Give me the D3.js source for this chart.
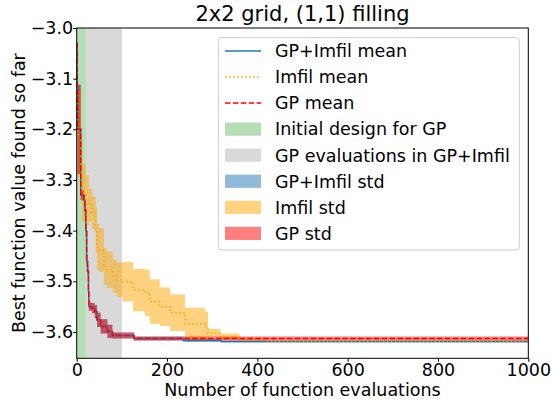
<!DOCTYPE html>
<html>
<head>
<meta charset="utf-8">
<script src="https://cdn.jsdelivr.net/npm/d3@7"></script>
<style>
  body { margin: 0; background: #fff; }
  svg { font-family: "DejaVu Sans", sans-serif; }
</style>
</head>
<body>
<div class="chart-container"></div>
<script>
// data
const gpEvals = [0, 1, 2, 9, 16, 18, 20, 22, 24, 26, 27, 34, 40, 45, 53, 68, 79, 127, 1000];
const gpMean = [-3.03, -3.12, -3.20, -3.33, -3.34, -3.36, -3.40, -3.46, -3.48, -3.52, -3.55, -3.553, -3.56, -3.576, -3.589, -3.599, -3.607, -3.613, -3.614];
const gpStd = [0, 0.005, 0.088, 0.01, 0.01, 0.012, 0.012, 0.012, 0.01, 0.01, 0.008, 0.01, 0.013, 0.014, 0.014, 0.013, 0.006, 0.004, 0.004];

const hybEvals = [0, 1, 2, 9, 16, 18, 20, 22, 24, 26, 27, 34, 40, 45, 53, 68, 79, 127, 236, 320, 1000];
const hybMean = [-3.03, -3.12, -3.20, -3.33, -3.34, -3.36, -3.40, -3.46, -3.48, -3.52, -3.55, -3.553, -3.56, -3.576, -3.589, -3.599, -3.607, -3.613, -3.617, -3.619, -3.619];
const hybStd = [0, 0.005, 0.088, 0.01, 0.01, 0.012, 0.012, 0.012, 0.01, 0.01, 0.008, 0.01, 0.013, 0.014, 0.014, 0.013, 0.006, 0.004, 0.003, 0.002, 0.002];

const imfilEvals = [0, 1, 2, 9, 12, 20, 27, 34, 42, 45, 50, 60, 67, 80, 89, 102, 125, 151, 162, 184, 207, 240, 284, 291, 317, 360, 420, 1000];
const imfilMean = [-3.03, -3.12, -3.21, -3.28, -3.325, -3.34, -3.35, -3.365, -3.398, -3.432, -3.438, -3.471, -3.477, -3.49, -3.497, -3.501, -3.517, -3.523, -3.540, -3.550, -3.562, -3.584, -3.589, -3.602, -3.609, -3.615, -3.618, -3.619];
const imfilStd = [0, 0.005, 0.085, 0.06, 0.057, 0.05, 0.032, 0.032, 0.046, 0.045, 0.043, 0.036, 0.036, 0.033, 0.034, 0.039, 0.042, 0.046, 0.044, 0.038, 0.036, 0.032, 0.029, 0.008, 0.006, 0.003, 0.002, 0.002];

const initDesign = [0, 20];
const gpPhase = [20, 100];
const xTicks = [0, 200, 400, 600, 800, 1000];
const yTicks = [-3.0, -3.1, -3.2, -3.3, -3.4, -3.5, -3.6];
const legendLabels = ["GP+Imfil mean", "Imfil mean", "GP mean", "Initial design for GP",
  "GP evaluations in GP+Imfil", "GP+Imfil std", "Imfil std", "GP std"];

// chart dimensions
const width = 551;
const height = 403;
const marginTop = 28;
const marginRight = 22.7;
const marginBottom = 44.7;
const marginLeft = 76.7;

const x = d3.scaleLinear()
    .domain([0, 1000])
    .range([marginLeft, width - marginRight]);

const y = d3.scaleLinear()
    .domain([-3.0, -3.652])
    .range([marginTop, height - marginBottom]);

const svg = d3.select('.chart-container').append("svg")
    .attr("width", width)
    .attr("height", height);

svg.append("clipPath").attr("id", "plot-clip")
  .append("rect")
    .attr("x", marginLeft).attr("y", marginTop)
    .attr("width", width - marginLeft - marginRight)
    .attr("height", height - marginTop - marginBottom);

const plot = svg.append("g").attr("clip-path", "url(#plot-clip)");

// shaded phases
plot.append("rect")
    .attr("x", x(initDesign[0])).attr("width", x(initDesign[1]) - x(initDesign[0]))
    .attr("y", marginTop).attr("height", height - marginTop - marginBottom)
    .attr("fill", "#2ca02c").attr("fill-opacity", 0.35);
plot.append("rect")
    .attr("x", x(gpPhase[0])).attr("width", x(gpPhase[1]) - x(gpPhase[0]))
    .attr("y", marginTop).attr("height", height - marginTop - marginBottom)
    .attr("fill", "#808080").attr("fill-opacity", 0.3);

function rows(evals, mean, std) {
    return evals.map((e, i) => ({e: e, m: mean[i], s: std[i]}));
}
const gp = rows(gpEvals, gpMean, gpStd);
const hyb = rows(hybEvals, hybMean, hybStd);
const imfil = rows(imfilEvals, imfilMean, imfilStd);

const band = d3.area()
    .curve(d3.curveStepAfter)
    .x(d => x(d.e))
    .y0(d => y(d.m - d.s))
    .y1(d => y(d.m + d.s));

const line = d3.line()
    .curve(d3.curveStepAfter)
    .x(d => x(d.e))
    .y(d => y(d.m));

// std bands
plot.append("path").attr("d", band(hyb)).attr("fill", "#1f77b4").attr("fill-opacity", 0.5);
plot.append("path").attr("d", band(imfil)).attr("fill", "#ffa500").attr("fill-opacity", 0.5);
plot.append("path").attr("d", band(gp)).attr("fill", "#ff0000").attr("fill-opacity", 0.5);

// means
plot.append("path").attr("d", line(hyb)).attr("fill", "none")
    .attr("stroke", "#1f77b4").attr("stroke-width", 1.5);
plot.append("path").attr("d", line(imfil)).attr("fill", "none")
    .attr("stroke", "#ffa500").attr("stroke-width", 1.5).attr("stroke-dasharray", "1.5,2.5");
plot.append("path").attr("d", line(gp)).attr("fill", "none")
    .attr("stroke", "#ff0000").attr("stroke-width", 1.5).attr("stroke-dasharray", "5.5,2.4");

// axes
const xAxis = svg.append("g")
    .attr("transform", `translate(0,${height - marginBottom})`)
    .call(d3.axisBottom(x).tickValues(xTicks).tickFormat(d3.format("d"))
        .tickSize(3.5).tickSizeOuter(0).tickPadding(1.5));
const yAxis = svg.append("g")
    .attr("transform", `translate(${marginLeft},0)`)
    .call(d3.axisLeft(y).tickValues(yTicks).tickFormat(d3.format(".1f"))
        .tickSize(3.5).tickSizeOuter(0).tickPadding(0));

[xAxis, yAxis].forEach(a => {
    a.select(".domain").remove();
    a.selectAll("text").attr("font-size", 17.5).attr("fill", "#000")
        .attr("font-family", "DejaVu Sans");
    a.selectAll("line").attr("stroke", "#000").attr("stroke-width", 1);
});

// frame
svg.append("rect")
    .attr("x", marginLeft).attr("y", marginTop)
    .attr("width", width - marginLeft - marginRight)
    .attr("height", height - marginTop - marginBottom)
    .attr("fill", "none").attr("stroke", "#000").attr("stroke-width", 1);

// titles
svg.append("text")
    .attr("x", (marginLeft + width - marginRight) / 2).attr("y", 21)
    .attr("text-anchor", "middle").attr("font-size", 21)
    .text("2x2 grid, (1,1) filling");
svg.append("text")
    .attr("x", (marginLeft + width - marginRight) / 2).attr("y", 396)
    .attr("text-anchor", "middle").attr("font-size", 17.5)
    .text("Number of function evaluations");
svg.append("text")
    .attr("transform", `translate(25,${(marginTop + height - marginBottom) / 2}) rotate(-90)`)
    .attr("text-anchor", "middle").attr("font-size", 17.5)
    .text("Best function value found so far");

// legend
const legend = svg.append("g");
legend.append("rect")
    .attr("x", 218.3).attr("y", 37.7).attr("width", 301).attr("height", 212.3)
    .attr("rx", 3).attr("fill", "#fff").attr("fill-opacity", 0.8)
    .attr("stroke", "#cccccc").attr("stroke-width", 1);

const legendStyle = [
    {kind: "line", color: "#1f77b4", dash: null},
    {kind: "line", color: "#ffa500", dash: "1.5,2.5"},
    {kind: "line", color: "#ff0000", dash: "5.5,2.4"},
    {kind: "patch", color: "#2ca02c", opacity: 0.35},
    {kind: "patch", color: "#808080", opacity: 0.3},
    {kind: "patch", color: "#1f77b4", opacity: 0.5},
    {kind: "patch", color: "#ffa500", opacity: 0.5},
    {kind: "patch", color: "#ff0000", opacity: 0.5}
];

legendLabels.forEach((label, i) => {
    const cy = 51 + i * 26.05;
    const st = legendStyle[i];
    if (st.kind === "line") {
        legend.append("line")
            .attr("x1", 225).attr("x2", 261).attr("y1", cy).attr("y2", cy)
            .attr("stroke", st.color).attr("stroke-width", 1.5)
            .attr("stroke-dasharray", st.dash);
    } else {
        legend.append("rect")
            .attr("x", 225).attr("y", cy - 6.6).attr("width", 36).attr("height", 13.2)
            .attr("fill", st.color).attr("fill-opacity", st.opacity);
    }
    legend.append("text")
        .attr("x", 275).attr("y", cy).attr("dy", "0.36em")
        .attr("font-size", 17.5)
        .text(label);
});
</script>
</body>
</html>
